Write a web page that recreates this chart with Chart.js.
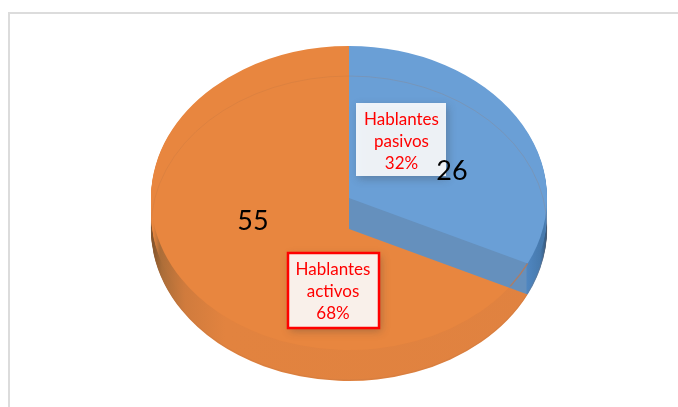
<!DOCTYPE html>
<html>
<head>
<meta charset="utf-8">
<script src="https://cdn.jsdelivr.net/npm/chart.js@4/dist/chart.umd.min.js"></script>
<style>
    html, body { margin: 0; padding: 0; background: #fff; overflow: hidden; }
    #frame { position: absolute; left: 8px; top: 12px; width: 670px; height: 395px;
             border-left: 2px solid #dcdcdc; border-top: 2px solid #dcdcdc; box-sizing: border-box; }
    canvas { position: absolute; left: 0; top: 0; }
</style>
</head>
<body>
<div id="frame"></div>
<canvas id="pieChart" width="678" height="407"></canvas>

<script>
    const categories = ['Hablantes pasivos', 'Hablantes activos'];
    const seriesValues = [26, 55];
    const percentLabels = ['32%', '68%'];

    const topColors = ['#6a9fd6', '#e8863f'];
    const tiltRatio = 152 / 198;
    const depth = 31;
    const lightDepth = 15; // upper part of the rim stays as light as the top

    // copy of a library arc, so each layer can have its own paint
    function paintArc(ctx, el, opts) {
        const arc = new Chart.ArcElement({
            x: el.x, y: el.y,
            startAngle: el.startAngle, endAngle: el.endAngle,
            circumference: el.circumference,
            innerRadius: el.innerRadius, outerRadius: el.outerRadius,
            options: Object.assign({}, el.options, opts)
        });
        arc.draw(ctx);
    }

    function sideGradient(ctx, stops) {
        const g = ctx.createLinearGradient(151, 0, 548, 0);
        stops.forEach(s => g.addColorStop((s[0] - 151) / 397, s[1]));
        return g;
    }

    function paintRim(ctx, el, darkFill, lightFill) {
        for (let d = depth; d > 0; d--) {
            ctx.save();
            ctx.translate(0, d / tiltRatio);
            paintArc(ctx, el, { backgroundColor: d > lightDepth ? darkFill : lightFill, borderWidth: 0 });
            ctx.restore();
        }
    }

    const tiltedPie = {
        id: 'tiltedPie',
        beforeDatasetsDraw(chart) {
            const ctx = chart.ctx;
            const arcs = chart.getDatasetMeta(0).data;
            const cy = arcs[0].y;
            const orangeDark = sideGradient(ctx, [[151, '#7d5029'], [162, '#ab6d38'], [185, '#d07b3d'], [225, '#e2833f'], [548, '#e08240']]);
            const orangeLight = sideGradient(ctx, [[151, '#e8863f'], [153, '#e8863f'], [160, '#ab6d38'], [185, '#d07b3d'], [225, '#e2833f'], [548, '#e08240']]);
            const blueDark = sideGradient(ctx, [[151, '#6590bd'], [526, '#6590bd'], [527, '#4f86c0'], [540, '#477aae'], [548, '#304f70']]);
            const blueLight = sideGradient(ctx, [[151, '#6590bd'], [526, '#6590bd'], [527, '#4f86c0'], [540, '#477aae'], [545, '#477aae'], [548, '#6a9fd6']]);

            ctx.save();
            ctx.translate(0, cy);
            ctx.scale(1, tiltRatio);
            ctx.translate(0, -cy);

            // orange rim, orange top, then the blue wedge with its own wall
            paintRim(ctx, arcs[1], orangeDark, orangeLight);
            paintArc(ctx, arcs[1], { backgroundColor: topColors[1], borderWidth: 0 });
            paintRim(ctx, arcs[0], blueDark, blueLight);
            paintArc(ctx, arcs[0], { backgroundColor: topColors[0], borderWidth: 0 });

            // faint outline of the pie base, seen through the top
            ctx.save();
            ctx.translate(0, 30 / tiltRatio);
            ctx.beginPath();
            ctx.arc(arcs[0].x, cy, arcs[0].outerRadius, 0, Math.PI * 2);
            ctx.strokeStyle = 'rgba(170,110,70,0.22)';
            ctx.lineWidth = 1;
            ctx.stroke();
            ctx.restore();

            // edge of the orange top showing through the blue wall
            ctx.beginPath();
            ctx.arc(arcs[0].x, cy, arcs[0].outerRadius, arcs[0].endAngle, 0.62);
            ctx.strokeStyle = 'rgba(190,120,80,0.8)';
            ctx.lineWidth = 1.5;
            ctx.stroke();

            ctx.restore();
            return false;
        },
        // the datasets hook above cancels afterDatasetsDraw, so labels go here
        afterDraw(chart) {
            const ctx = chart.ctx;
            drawBox(ctx, 356, 103, 90, 73, 'rgba(255,255,255,0.89)', null, [categories[0], percentLabels[0]], 401.5, [125, 147, 169]);
            drawBox(ctx, 288, 253, 91, 75, '#f9f0ea', '#ff0000', [categories[1], percentLabels[1]], 333, [275, 297, 319]);

            ctx.fillStyle = '#000';
            ctx.font = '27px Lato';
            ctx.textAlign = 'center';
            ctx.textBaseline = 'alphabetic';
            ctx.fillText(String(seriesValues[0]), 452, 180);
            ctx.fillText(String(seriesValues[1]), 253, 230);
        }
    };

    function drawBox(ctx, x, y, w, h, fill, border, label, textX, baselines) {
        ctx.save();
        ctx.shadowColor = 'rgba(60,60,60,0.35)';
        ctx.shadowBlur = 8;
        ctx.shadowOffsetX = 2;
        ctx.shadowOffsetY = 3;
        ctx.fillStyle = fill;
        ctx.fillRect(x, y, w, h);
        ctx.restore();
        if (border) {
            ctx.strokeStyle = border;
            ctx.lineWidth = 2.5;
            ctx.strokeRect(x, y, w, h);
        }
        const words = label[0].split(' ');
        const lines = [words[0], words[1], label[1]];
        ctx.fillStyle = '#ff0000';
        ctx.font = '17px Lato';
        ctx.textAlign = 'center';
        ctx.textBaseline = 'alphabetic';
        lines.forEach((line, i) => ctx.fillText(line, textX, baselines[i]));
    }

    new Chart(document.getElementById('pieChart').getContext('2d'), {
        type: 'pie',
        data: {
            labels: categories,
            datasets: [{
                data: seriesValues,
                backgroundColor: topColors,
                borderWidth: 0
            }]
        },
        options: {
            responsive: false,
            animation: false,
            layout: { padding: { left: 20, bottom: 11 } },
            plugins: {
                legend: { display: false },
                tooltip: { enabled: false }
            }
        },
        plugins: [tiltedPie]
    });
</script>
</body>
</html>
